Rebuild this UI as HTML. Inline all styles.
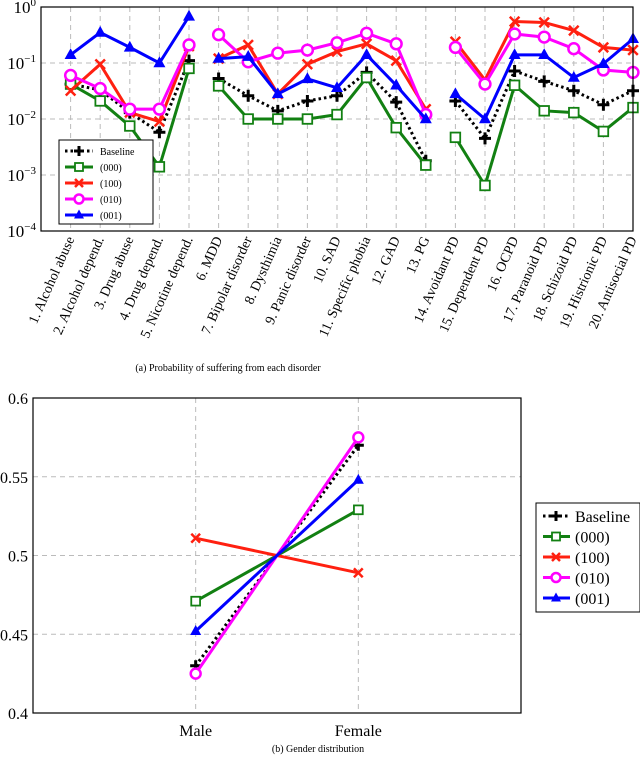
<!DOCTYPE html>
<html><head><meta charset="utf-8"><style>
body{margin:0;background:#fff;width:640px;height:758px;overflow:hidden;font-family:"Liberation Serif",serif}
svg{position:absolute;left:0;top:0}
</style></head><body>
<svg id="s" width="640" height="758"></svg>
<script>
const cats=["1. Alcohol abuse","2. Alcohol depend.","3. Drug abuse","4. Drug depend.","5. Nicotine depend.","6. MDD","7. Bipolar disorder","8. Dysthimia","9. Panic disorder","10. SAD","11. Specific phobia","12. GAD","13. PG","14. Avoidant PD","15. Dependent PD","16. OCPD","17. Paranoid PD","18. Schizoid PD","19. Histrionic PD","20. Antisocial PD"];
const groups=[[0,5],[5,13],[13,20]];
const baseline=[0.042,0.033,0.013,0.0058,0.11,0.053,0.026,0.014,0.021,0.026,0.068,0.02,0.0018,0.021,0.0045,0.072,0.047,0.032,0.018,0.032];
const s000=[0.042,0.021,0.0075,0.0014,0.08,0.039,0.01,0.01,0.01,0.012,0.055,0.007,0.0015,0.0047,0.00065,0.04,0.014,0.013,0.006,0.016];
const s100=[0.032,0.095,0.013,0.009,0.2,0.12,0.21,0.028,0.095,0.16,0.22,0.11,0.015,0.24,0.05,0.55,0.53,0.38,0.19,0.17];
const s010=[0.06,0.035,0.015,0.015,0.21,0.32,0.105,0.15,0.17,0.23,0.34,0.22,0.012,0.19,0.042,0.33,0.29,0.18,0.075,0.068];
const s001=[0.14,0.35,0.19,0.1,0.68,0.12,0.13,0.028,0.052,0.036,0.14,0.04,0.01,0.028,0.01,0.14,0.14,0.055,0.097,0.27];
const yTicks=[0,-1,-2,-3,-4];
const genderCats=["Male","Female"];
const gBaseline=[0.43,0.57];
const g000=[0.471,0.529];
const g100=[0.511,0.489];
const g010=[0.425,0.575];
const g001=[0.452,0.548];
const gTicks=[0.4,0.45,0.5,0.55,0.6];

const NS="http://www.w3.org/2000/svg",S=document.getElementById('s');
function el(t,a,p){const e=document.createElementNS(NS,t);for(const k in a)e.setAttribute(k,a[k]);(p||S).appendChild(e);return e;}
function txt(x,y,str,a,p){const e=el('text',Object.assign({x:x,y:y},a),p);e.textContent=str;return e;}
function marker(g,kind,x,y,c,sz){
  if(kind==='plus'){el('path',{d:`M${x-sz},${y}H${x+sz}M${x},${y-sz}V${y+sz}`,stroke:c,'stroke-width':3,fill:'none'},g);}
  else if(kind==='sq'){el('rect',{x:x-sz*0.8,y:y-sz*0.8,width:sz*1.6,height:sz*1.6,fill:'#fff',stroke:c,'stroke-width':1.8},g);}
  else if(kind==='x'){el('path',{d:`M${x-sz*0.8},${y-sz*0.8}L${x+sz*0.8},${y+sz*0.8}M${x+sz*0.8},${y-sz*0.8}L${x-sz*0.8},${y+sz*0.8}`,stroke:c,'stroke-width':2.5},g);}
  else if(kind==='o'){el('circle',{cx:x,cy:y,r:sz*0.9,fill:'#fff',stroke:c,'stroke-width':2.5},g);}
  else if(kind==='tri'){el('path',{d:`M${x},${y-sz*1.1}L${x+sz},${y+sz*0.7}L${x-sz},${y+sz*0.7}Z`,fill:c},g);}
}
const series=[
 {name:'Baseline',d:baseline,g:gBaseline,c:'#000',m:'plus',dash:'2.5,3'},
 {name:'(000)',d:s000,g:g000,c:'#128012',m:'sq',dash:''},
 {name:'(100)',d:s100,g:g100,c:'#ff2010',m:'x',dash:''},
 {name:'(010)',d:s010,g:g010,c:'#ff00ff',m:'o',dash:''},
 {name:'(001)',d:s001,g:g001,c:'#0000ff',m:'tri',dash:''}];

const L=41,R=633,T=7,B=231;
const xA=i=>L+(i+1)*(R-L)/20;
const yA=v=>T+(-Math.log10(v))*(B-T)/4;
const topG=el('g',{});


for(const t of yTicks){const y=T+(-t)*(B-T)/4;
  if(t!==0&&t!==-4)el('line',{x1:L,x2:R,y1:y,y2:y,stroke:'#bbb','stroke-dasharray':'5,4'},topG);
  const tt=txt(36,y+6,'10',{'text-anchor':'end','font-size':17},topG);
  const sp=el('tspan',{dy:-7,'font-size':11},tt);sp.textContent=t===0?'0':'−'+(-t);
  
  
}
for(let i=0;i<20;i++){el('line',{x1:xA(i),x2:xA(i),y1:T,y2:B,stroke:'#bbb','stroke-dasharray':'5,4'},topG);
  const lb=txt(0,0,cats[i],{'text-anchor':'end','font-size':14,transform:`translate(${xA(i)+4},${B+8}) rotate(-66)`},topG);
  
  }
for(const s of series){const g=el('g',{},topG);
  
  
  for(const [a,b] of groups){let d='';for(let i=a;i<b;i++)d+=(i===a?'M':'L')+xA(i)+','+yA(s.d[i]);
    el('path',{d:d,fill:'none',stroke:s.c,'stroke-width':3,'stroke-dasharray':s.dash},g);}
  for(let i=0;i<20;i++)marker(g,s.m,xA(i),yA(s.d[i]),s.c,6);}
el('rect',{x:L,y:T,width:R-L,height:B-T,fill:'none',stroke:'#000','stroke-width':1.2},topG);
const lg=el('g',{},topG);


el('rect',{x:59,y:140,width:94,height:84,fill:'#fff',stroke:'#000'},lg);
series.forEach((s,i)=>{const y=151+i*16;el('line',{x1:65,x2:93,y1:y,y2:y,stroke:s.c,'stroke-width':3,'stroke-dasharray':s.dash},lg);
  marker(lg,s.m,79,y,s.c,5);const t=txt(100,y+4,s.name,{'font-size':10},lg);
  
  });
const c1=txt(228,371,'(a) Probability of suffering from each disorder',{'text-anchor':'middle','font-size':10});



const L2=33,R2=521,T2=398,B2=713;
const gx=i=>L2+(R2-L2)*(1+i)/3;
const gy=v=>B2-(v-0.4)/0.2*(B2-T2);
const bot=el('g',{});


for(const t of gTicks){const y=gy(t);if(t>0.4&&t<0.6)el('line',{x1:L2,x2:R2,y1:y,y2:y,stroke:'#bbb','stroke-dasharray':'5,4'},bot);
  const tt=txt(28,y+6,String(t),{'text-anchor':'end','font-size':16},bot);
  
  }
genderCats.forEach((c,i)=>{el('line',{x1:gx(i),x2:gx(i),y1:T2,y2:B2,stroke:'#bbb','stroke-dasharray':'5,4'},bot);
  const t=txt(gx(i),736,c,{'text-anchor':'middle','font-size':16},bot);
  
  });
for(const s of series){const g=el('g',{},bot);
  
  
  el('path',{d:`M${gx(0)},${gy(s.g[0])}L${gx(1)},${gy(s.g[1])}`,fill:'none',stroke:s.c,'stroke-width':3,'stroke-dasharray':s.dash},g);
  for(let i=0;i<2;i++)marker(g,s.m,gx(i),gy(s.g[i]),s.c,5.5);}
el('rect',{x:L2,y:T2,width:R2-L2,height:B2-T2,fill:'none',stroke:'#000','stroke-width':1.2},bot);
const lg2=el('g',{},bot);


el('rect',{x:536,y:503,width:104,height:109,fill:'#fff',stroke:'#000'},lg2);
series.forEach((s,i)=>{const y=516+i*20.5;el('line',{x1:543,x2:570,y1:y,y2:y,stroke:s.c,'stroke-width':3,'stroke-dasharray':s.dash},lg2);
  marker(lg2,s.m,556,y,s.c,5);const t=txt(575,y+6,s.name,{'font-size':16},lg2);
  
  });
const c2=txt(318,752,'(b) Gender distribution',{'text-anchor':'middle','font-size':10});


</script>
</body></html>
